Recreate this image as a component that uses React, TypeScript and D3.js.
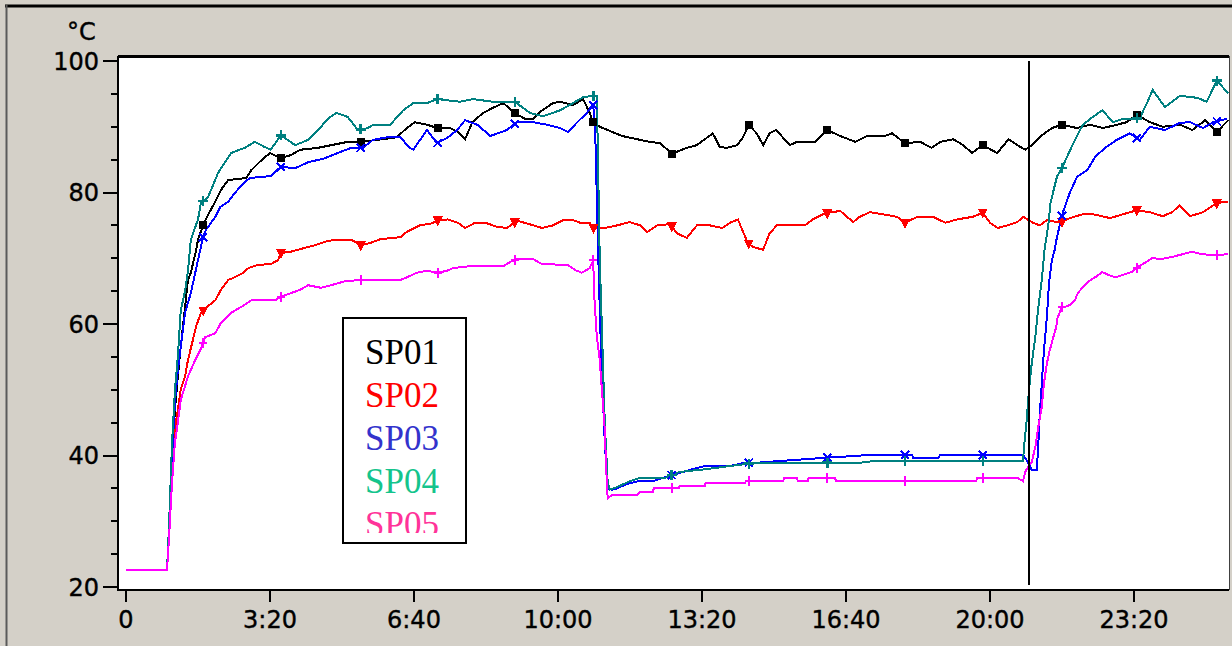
import React from 'react'
import * as d3 from 'd3'

// time in minutes, temperature in °C
const sp01: [number, number][] = [[0,22.6],[57,22.6],[60,28],[64,40],[68,47],[72,52],[76,56.5],[83,63.6],[86,66.7],[90,67.8],[97,71],[100,72.8],[107,75],[114,76.6],[124,78.6],[132,80.4],[142,81.9],[167,82.2],[174,83.4],[188,84.9],[200,86],[215,85.2],[229,85.7],[242,86.5],[267,86.8],[285,87.2],[308,87.7],[326,87.7],[349,88],[376,88.4],[390,89.8],[401,90.7],[418,90.3],[433,89.8],[450,89.8],[461,89.2],[471,88.1],[481,90.7],[496,92.1],[510,92.9],[524,93.6],[540,92.1],[554,91.2],[565,91.2],[578,92.5],[593,93.6],[603,93.8],[621,93.3],[635,94.2],[644,92.1],[649,90.7],[658,90],[669,89.5],[689,88.6],[710,88.1],[728,87.7],[742,87.5],[758,85.9],[779,86.8],[793,87.2],[804,88.1],[815,89],[825,86.9],[835,86.8],[849,87.2],[857,88.4],[865,90.3],[876,89],[885,87.2],[894,89],[903,89.5],[913,88.3],[922,87.2],[932,87.7],[957,87.7],[974,89.5],[992,88.6],[1013,87.7],[1029,88.6],[1054,88.6],[1064,89],[1082,87.5],[1103,87.7],[1119,86.8],[1131,87.7],[1149,88.1],[1163,87.2],[1175,86],[1190,87.2],[1210,86],[1226,88.1],[1238,87.2],[1249,86.5],[1258,87.2],[1272,88.7],[1286,89.8],[1300,90.3],[1321,89.8],[1339,90.3],[1357,89.8],[1376,90.3],[1390,90.7],[1404,91.8],[1422,90.7],[1440,90],[1464,90.3],[1481,89.5],[1499,91],[1515,89.2],[1531,91]]

const sp02: [number, number][] = [[0,22.6],[57,22.6],[60,28],[64,38],[68,44],[72,47],[76,50],[82,52],[86,54.5],[93,57.6],[97,59.5],[104,61.7],[110,62.4],[124,63.6],[132,65.2],[142,66.7],[151,67.1],[163,67.8],[170,68.5],[183,69],[201,69.1],[211,69.7],[215,70.8],[229,71],[249,71.6],[263,72],[276,72.5],[290,72.8],[313,72.8],[326,72],[339,72.3],[353,72.9],[381,73.2],[390,74],[408,75],[425,75.3],[433,75.8],[447,75.9],[461,75.4],[471,74.6],[485,75.4],[499,75.4],[515,74.8],[529,74.6],[543,75.7],[560,75.2],[578,74.6],[593,75],[607,75.8],[621,75.8],[631,75.4],[644,75.4],[649,74.6],[665,74.6],[682,75],[700,75.5],[714,75],[724,74],[738,75],[756,75.2],[765,73.8],[779,73.1],[793,75],[811,75],[828,74.6],[839,75.4],[850,75.9],[857,74],[864,72.3],[871,71.7],[885,71.3],[894,73.8],[904,75],[943,75],[954,75.9],[968,76.7],[975,76.9],[992,77.2],[1010,75.5],[1019,76.3],[1033,77],[1051,76.7],[1071,76.3],[1082,75.4],[1099,76.3],[1121,76.3],[1138,75.4],[1154,75.9],[1176,76.3],[1190,76.9],[1200,75.4],[1211,74.6],[1224,75],[1238,75.5],[1246,76.3],[1260,75.4],[1269,75],[1279,75.8],[1297,75.4],[1311,76.1],[1329,76.7],[1343,76.7],[1367,76.1],[1385,76.7],[1404,77.3],[1422,77],[1440,76.4],[1453,77],[1463,78],[1478,76.4],[1496,77],[1515,78.4],[1531,78.6]]

const sp03: [number, number][] = [[0,22.6],[57,22.6],[60,29],[64,40],[68,48],[72,53],[76,56.5],[82,61.7],[90,64.7],[100,69.7],[107,73.2],[111,74.3],[124,76.3],[131,77.8],[142,78.6],[151,79.9],[163,81.4],[172,82.2],[201,82.5],[215,83.9],[235,83.7],[253,84.6],[276,85.2],[294,86],[313,86.8],[329,86.8],[343,88],[363,88.4],[381,88.4],[394,86.8],[399,86.5],[418,89.5],[432,87.5],[446,88.3],[460,89.5],[471,91],[488,90.3],[506,88.6],[529,89.5],[543,90.7],[565,90.7],[585,90.3],[603,89.8],[614,89.2],[626,90.6],[640,92.1],[649,93.3],[652,88],[656,70],[660,55],[665,42],[669,35],[675,34.8],[682,35],[690,35.4],[700,35.8],[712,36.1],[732,36.1],[758,37],[786,37.9],[804,38.4],[839,38.4],[860,38.9],[876,38.9],[913,39.2],[964,39.6],[1036,40.1],[1092,40.1],[1093,39.6],[1128,39.6],[1131,40.1],[1246,40.1],[1251,39.3],[1258,37.8],[1265,37.8],[1267,41.3],[1269,45.9],[1272,51],[1275,56],[1279,61],[1282,66.2],[1286,69.7],[1290,71.3],[1293,73.2],[1301,76.9],[1311,80],[1321,82.4],[1335,83.4],[1346,85.4],[1360,86.8],[1376,88],[1394,89],[1408,88],[1422,90],[1443,89.5],[1464,90.6],[1478,90.7],[1496,89.8],[1510,90.7],[1529,91.2]]

const sp04: [number, number][] = [[0,22.6],[57,22.6],[60,30],[64,42],[68,50],[72,55],[76,62],[82,65],[86,68],[90,72.8],[100,75.9],[104,78.4],[114,79.3],[128,83],[146,86],[165,86.8],[179,87.7],[193,86.9],[201,86.5],[215,88.7],[235,87.2],[253,88],[267,89.5],[281,91.3],[292,92.1],[308,91.5],[322,89.5],[336,89.8],[343,90.3],[367,90.3],[385,92.5],[399,93.6],[418,93.6],[433,94.2],[464,93.8],[482,94.2],[510,93.8],[540,93.8],[561,92.1],[579,91.6],[603,92.5],[621,93.6],[635,94.5],[649,94.7],[654,94.7],[658,70],[665,45],[669,36],[672,34.8],[682,35.2],[690,35.6],[700,36.1],[714,36.6],[749,36.6],[769,37.5],[804,37.9],[839,38.4],[876,38.9],[1019,38.9],[1043,39.2],[1246,39.2],[1247,41],[1251,45.4],[1254,49.7],[1258,54],[1263,58],[1267,62.4],[1272,66.7],[1276,71.5],[1281,75],[1284,78.4],[1293,82.4],[1300,83.7],[1307,85.4],[1318,88],[1329,90.3],[1343,91.5],[1356,92.5],[1371,90.7],[1385,91.2],[1408,91.3],[1418,93.6],[1426,95.6],[1443,93],[1464,94.7],[1488,94.4],[1501,93.8],[1515,97],[1531,95.1]]

const sp05: [number, number][] = [[0,22.6],[57,22.6],[60,28],[64,36],[68,42],[72,45],[76,48.4],[86,52],[96,54.5],[103,56],[110,58],[124,58.6],[132,60.2],[146,61.7],[160,62.6],[174,63.6],[207,63.6],[215,64.1],[229,64.7],[242,65.2],[253,65.9],[271,65.5],[285,65.9],[304,66.5],[326,66.7],[381,66.7],[390,67.1],[404,67.8],[418,68.1],[433,67.8],[446,68.1],[454,68.5],[478,68.8],[524,68.8],[533,69.4],[543,69.9],[565,69.9],[578,69.1],[613,69],[624,68.2],[633,67.8],[644,68.5],[649,69.7],[650,65],[654,58],[658,54.5],[661,50],[665,44],[667,38],[669,33.5],[675,34],[710,34],[714,34.4],[732,34.4],[733,35],[768,35],[769,35.4],[804,35.4],[805,35.8],[860,35.8],[861,36.1],[913,36.1],[914,36.6],[932,36.6],[933,36.1],[947,36.1],[948,36.6],[985,36.6],[986,36.1],[1181,36.1],[1182,36.6],[1238,36.6],[1246,36.1],[1249,37.5],[1253,38.3],[1258,39],[1263,41.3],[1267,44.3],[1272,47.4],[1275,51],[1279,54],[1283,56],[1288,58],[1292,59.5],[1294,61],[1300,62.6],[1304,62.6],[1311,62.9],[1318,63.6],[1322,64.7],[1329,65.6],[1336,66.4],[1346,67.1],[1356,67.9],[1364,67.5],[1374,67.1],[1388,67.6],[1397,67.9],[1406,68.7],[1415,69.3],[1425,70],[1439,69.9],[1453,70.2],[1467,70.6],[1481,71],[1494,70.6],[1513,70.5],[1531,70.6]]

const seriesNames = ['SP01', 'SP02', 'SP03', 'SP04', 'SP05']
const seriesData = [sp01, sp02, sp03, sp04, sp05]
const lineColors = ['#000000', '#ff0000', '#0000ff', '#008080', '#ff00ff']
const legendColors = ['#000000', '#ff0000', '#3333cc', '#14c48c', '#ff3399']

const xTicks = [0, 200, 400, 600, 800, 1000, 1200, 1400]
const xTickLabels = ['0', '3:20', '6:40', '10:00', '13:20', '16:40', '20:00', '23:20']
const yTicks = [20, 40, 60, 80, 100]
const yMinorTicks = [25, 30, 35, 45, 50, 55, 65, 70, 75, 85, 90, 95]
const markerMinutes = [107, 215, 326, 433, 540, 649, 758, 865, 974, 1082, 1190, 1300, 1404, 1515]
const cursorMinute = 1254

const layout = { left: 118, right: 1229, top: 56, bottom: 590, yTop: 61, yBottom: 587 }

function valueAt(data: [number, number][], t: number) {
	const i = d3.bisector((d: [number, number]) => d[0]).left(data, t)
	if (i <= 0) return data[0][1]
	if (i >= data.length) return data[data.length - 1][1]
	const a = data[i - 1], b = data[i]
	return a[1] + (b[1] - a[1]) * (t - a[0]) / (b[0] - a[0])
}

function Marker({ kind, cx, cy, color }: { kind: number, cx: number, cy: number, color: string }) {
	if (kind === 0) return <rect x={cx - 4} y={cy - 4} width={8} height={8} fill={color} />
	if (kind === 1) return <polygon points={`${cx - 5},${cy - 4} ${cx + 5},${cy - 4} ${cx},${cy + 6}`} fill={color} />
	if (kind === 2) return (
		<path d={`M${cx - 4},${cy - 4}L${cx + 4},${cy + 4}M${cx + 4},${cy - 4}L${cx - 4},${cy + 4}`} stroke={color} strokeWidth={2} />
	)
	if (kind === 3) return (
		<path d={`M${cx - 5},${cy}L${cx + 5},${cy}M${cx},${cy - 5}L${cx},${cy + 5}`} stroke={color} strokeWidth={2.5} />
	)
	return <path d={`M${cx - 4},${cy}L${cx + 4},${cy}M${cx},${cy - 5}L${cx},${cy + 5}`} stroke={color} strokeWidth={2} />
}

export default function App() {
	const x = d3.scaleLinear().domain([-11.1, 1532]).range([layout.left, layout.right])
	const y = d3.scaleLinear().domain([20, 100]).range([layout.yBottom, layout.yTop])
	const line = d3.line<[number, number]>().x(d => x(d[0])).y(d => y(d[1]))

	const tickFont = { fontFamily: 'DejaVu Sans, sans-serif', fontSize: 24 }
	const cursorX = Math.round(x(cursorMinute))

	return (
		<svg width={1232} height={646} style={{ position: 'absolute', left: 0, top: 0 }}>
			<defs>
				<clipPath id="plot-clip">
					<rect x={layout.left} y={layout.top} width={layout.right - layout.left} height={layout.bottom - layout.top} />
				</clipPath>
				<clipPath id="legend-clip">
					<rect x={343} y={318} width={123} height={215} />
				</clipPath>
			</defs>
			<rect x={0} y={0} width={1232} height={646} fill="#d4d0c8" />
			<line x1={5} x2={1232} y1={6} y2={6} stroke="#000" strokeWidth={3} />
			<line x1={6.5} x2={6.5} y1={5} y2={646} stroke="#5a5a5a" strokeWidth={2} />

			<rect x={layout.left} y={layout.top} width={layout.right - layout.left} height={layout.bottom - layout.top} fill="#fff" />

			<g clipPath="url(#plot-clip)" shapeRendering="crispEdges">
				{seriesData.map((data, i) => (
					<path key={seriesNames[i]} d={line(data) || ''} fill="none" stroke={lineColors[i]} strokeWidth={2} />
				))}
				{seriesData.map((data, i) => (
					<g key={'m' + i}>
						{markerMinutes.map(t => (
							<Marker key={t} kind={i} cx={x(t)} cy={y(valueAt(data, t))} color={lineColors[i]} />
						))}
					</g>
				))}
				<line x1={cursorX} x2={cursorX} y1={y(100)} y2={y(20) - 2} stroke="#000" strokeWidth={2} />
			</g>

			<g shapeRendering="crispEdges" stroke="#000">
				<line x1={layout.left} x2={layout.right} y1={layout.top} y2={layout.top} strokeWidth={3} />
				<line x1={layout.left} x2={layout.left} y1={layout.top} y2={layout.bottom + 1} strokeWidth={2} />
				<line x1={layout.left} x2={layout.right} y1={layout.bottom} y2={layout.bottom} strokeWidth={2} />
				<line x1={layout.right} x2={layout.right} y1={layout.top} y2={layout.bottom} strokeWidth={1} stroke="#404040" />
				{yTicks.map(v => (
					<line key={'y' + v} x1={103} x2={layout.left} y1={y(v)} y2={y(v)} strokeWidth={2} />
				))}
				{yMinorTicks.map(v => (
					<line key={'ym' + v} x1={111} x2={layout.left} y1={y(v)} y2={y(v)} strokeWidth={2} />
				))}
				{xTicks.map(t => (
					<line key={'x' + t} x1={x(t)} x2={x(t)} y1={layout.bottom} y2={602} strokeWidth={2} />
				))}
			</g>

			<g style={tickFont} fill="#000" stroke="#000" strokeWidth={0.4}>
				{yTicks.map(v => (
					<text key={v} x={99} y={y(v)} dy="0.36em" textAnchor="end">{v}</text>
				))}
				{xTicks.map((t, i) => (
					<text key={t} x={x(t)} y={628} textAnchor="middle">{xTickLabels[i]}</text>
				))}
				<text x={67} y={40}>°C</text>
			</g>

			<rect x={343} y={318} width={123} height={225} fill="#fff" stroke="#000" strokeWidth={2} />
			<g clipPath="url(#legend-clip)" style={{ fontFamily: 'Liberation Serif, Times New Roman, serif', fontSize: 35 }}>
				{seriesNames.map((name, i) => (
					<text key={name} x={365} y={364 + i * 43} fill={legendColors[i]}>{name}</text>
				))}
			</g>
		</svg>
	)
}
